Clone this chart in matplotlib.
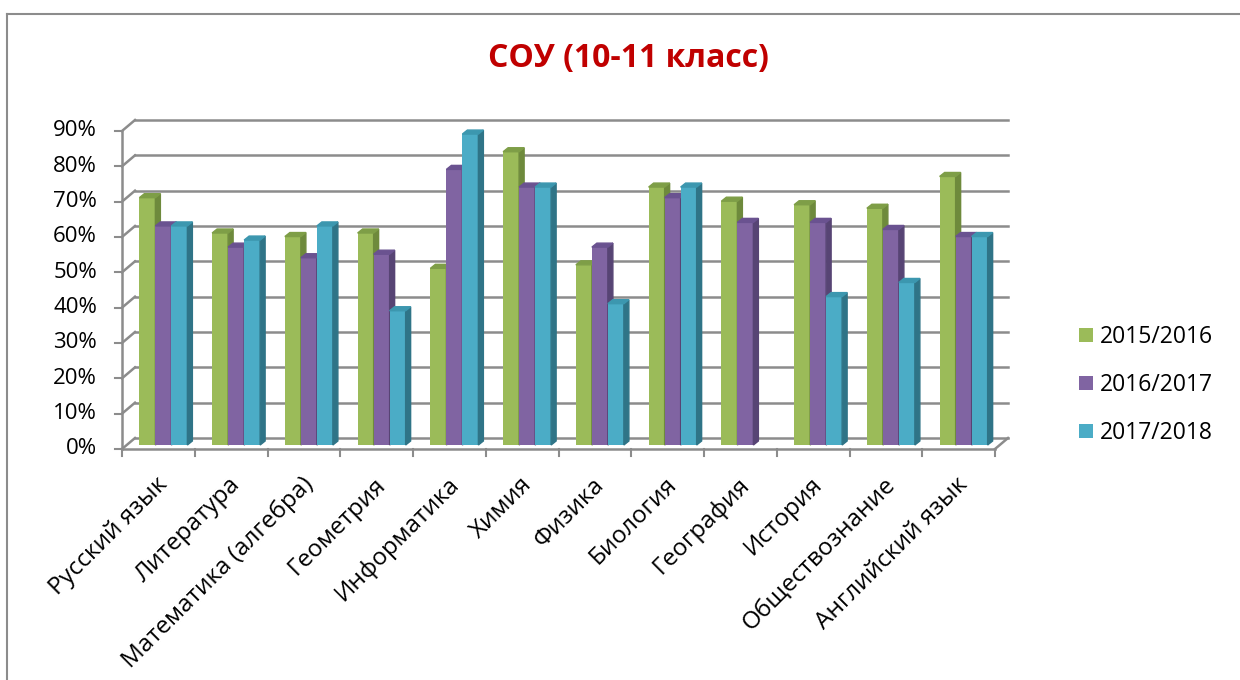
import matplotlib
matplotlib.use("Agg")
import matplotlib.pyplot as plt
from matplotlib.lines import Line2D
from matplotlib.patches import Polygon
import numpy as np

plt.rcParams['font.family'] = ['Open Sans', 'DejaVu Sans']

# data
subjects = ["Русский язык", "Литература", "Математика (алгебра)", "Геометрия",
            "Информатика", "Химия", "Физика", "Биология", "География",
            "История", "Обществознание", "Английский язык"]
years = ["2015/2016", "2016/2017", "2017/2018"]
y2016 = [0.70, 0.60, 0.59, 0.60, 0.50, 0.83, 0.51, 0.73, 0.69, 0.68, 0.67, 0.76]
y2017 = [0.62, 0.56, 0.53, 0.54, 0.78, 0.73, 0.56, 0.70, 0.63, 0.63, 0.61, 0.59]
y2018 = [0.62, 0.58, 0.62, 0.38, 0.88, 0.73, 0.40, 0.73, 0.00, 0.42, 0.46, 0.59]
yticks = [0.0, 0.1, 0.2, 0.3, 0.4, 0.5, 0.6, 0.7, 0.8, 0.9]

front_cols = ['#9BBB59', '#8064A2', '#4BACC6']
side_cols = ['#6E8A3C', '#574474', '#2F7487']
top_cols = ['#7E9E47', '#6A5290', '#3C97AF']
grid_col = '#8C8C8C'

W, H = 1240, 680
fig = plt.figure(figsize=(W / 100, H / 100), dpi=100)

# back wall of the pseudo-3D plot
ax = fig.add_axes([135 / W, 1 - 438 / H, (1008 - 135) / W, (438 - 120) / H])
ax.set_xlim(-0.5, 11.5)
ax.set_ylim(0, 0.9)
ax.axis('off')

ppx = (1008 - 135) / 12.0   # pixels per x unit
ppy = (438 - 120) / 0.9     # pixels per y unit
def dx(p): return p / ppx
def dy(p): return p / ppy

n = len(subjects)
x = np.arange(n)

# wall gridlines + left wall diagonals
fx0 = -0.5 - dx(13)
fyo = -dy(11)
for v in yticks:
    ax.plot([-0.5, 11.5], [v, v], color=grid_col, lw=1.8, clip_on=False, zorder=1)
    ax.plot([fx0, -0.5], [v + fyo, v], color=grid_col, lw=1.8, clip_on=False, zorder=1)
    ax.plot([fx0 - dx(7), fx0], [v + fyo, v + fyo], color=grid_col, lw=1.5, clip_on=False, zorder=1)
    ax.text(fx0 - dx(25), v + fyo, f"{int(round(v * 100))}%", ha='right', va='center',
            fontsize=16, color='black')

# front axis and floor edge
ax.plot([fx0, fx0], [fyo, 0.9 + fyo], color=grid_col, lw=1.8, clip_on=False, zorder=1)
ax.plot([fx0, 11.5 - dx(13)], [fyo, fyo], color=grid_col, lw=1.8, clip_on=False, zorder=1)
ax.plot([11.5 - dx(13), 11.5], [fyo, 0], color=grid_col, lw=1.8, clip_on=False, zorder=1)
for b in np.arange(-0.5, 12, 1.0):
    ax.plot([b - dx(13), b - dx(13)], [fyo, fyo - dy(7)], color=grid_col, lw=1.5,
            clip_on=False, zorder=1)

# bars
bw = dx(16)
bx0 = -dx(8)
bb = -dy(7)
ddx, ddy = dx(5), dy(4)
handles = []
for i, vals in enumerate([y2016, y2017, y2018]):
    xs = x + bx0 + (i - 1) * bw
    bars = ax.bar(xs, vals, bw, bottom=bb, color=front_cols[i], zorder=3 + i,
                  clip_on=False, label=years[i])
    handles.append(bars)
    for xc, v in zip(xs, vals):
        if v <= 0:
            continue
        xl, xr, yt = xc - bw / 2, xc + bw / 2, bb + v
        ax.add_patch(Polygon([(xr, bb), (xr + ddx, bb + ddy), (xr + ddx, yt + ddy), (xr, yt)],
                             closed=True, color=side_cols[i], zorder=3 + i, clip_on=False))
        ax.add_patch(Polygon([(xl, yt), (xl + ddx, yt + ddy), (xr + ddx, yt + ddy), (xr, yt)],
                             closed=True, color=top_cols[i], zorder=3 + i, clip_on=False))

# category labels
for xi, name in zip(x, subjects):
    ax.text(xi - dx(13) + dx(6), fyo - dy(32), name, rotation=45, rotation_mode='anchor',
            ha='right', va='center', fontsize=17.5, color='black')

fig.text(628 / W, 1 - 58 / H, "СОУ (10-11 класс)", ha='center', va='center',
         fontsize=23, fontweight='bold', color='#C00000')

fig.legend(handles=handles, labels=years, loc='center left',
           bbox_to_anchor=(1079 / W, 1 - 385 / H), frameon=False, fontsize=16.5,
           borderpad=0, borderaxespad=0, handlelength=0.6, handleheight=0.6,
           handletextpad=0.3, labelspacing=1.05)

# chart border (only left and top edges are visible)
fig.add_artist(Line2D([7 / W, 7 / W], [0, 1 - 14 / H], color=grid_col, lw=1.5))
fig.add_artist(Line2D([7 / W, 1], [1 - 14 / H, 1 - 14 / H], color=grid_col, lw=1.5))

fig.savefig("out.png", dpi=100)
